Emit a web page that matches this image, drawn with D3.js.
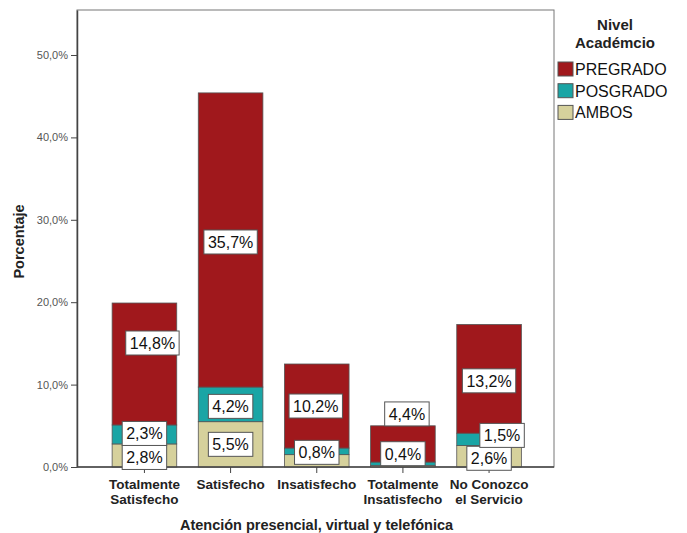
<!DOCTYPE html>
<html>
<head>
<meta charset="utf-8">
<script src="https://cdn.jsdelivr.net/npm/d3@7/dist/d3.min.js"></script>
<style>
  body { margin: 0; background: #fff; }
  svg { display: block; font-family: Arial, "Liberation Sans", sans-serif; }
</style>
</head>
<body>
<svg id="chart" width="687" height="533"></svg>
<script>
// Categories on the x axis (two-line labels)
const categories = ["Totalmente Satisfecho", "Satisfecho", "Insatisfecho", "Totalmente Insatisfecho", "No Conozco el Servicio"];
const categoryLines = [["Totalmente", "Satisfecho"], ["Satisfecho"], ["Insatisfecho"], ["Totalmente", "Insatisfecho"], ["No Conozco", "el Servicio"]];

// Stack order, bottom to top
const seriesNames = ["AMBOS", "POSGRADO", "PREGRADO"];
const ambos     = [2.8, 5.5, 1.5, 0.2, 2.6];
const posgrado  = [2.3, 4.2, 0.8, 0.4, 1.5];
const pregrado  = [14.8, 35.7, 10.2, 4.4, 13.2];
// Which segment values carry a printed label
const showAmbos    = [true, true, false, false, true];
const showPosgrado = [true, true, true, true, true];
const showPregrado = [true, true, true, true, true];

const yTicks = [0, 10, 20, 30, 40, 50];

// Styling
const colors = { PREGRADO: "#a0181c", POSGRADO: "#1aa5a5", AMBOS: "#d6d19c" };
// Label nudges (px) so the boxes do not collide
const labelNudge = {
  AMBOS:    [[0, 2], [0, 0], [0, 0], [0, 0], [0, 2]],
  POSGRADO: [[0, -1], [0, 2], [0, 1], [0, -10], [13, -4]],
  PREGRADO: [[8, -21], [0, 2], [-1, 0], [4, -30], [0, 2]]
};

const svg = d3.select("#chart");
const frame = { left: 77, right: 554, top: 10, bottom: 467 };

const x = d3.scaleBand()
  .domain(categories)
  .range([101.35, 532.15])
  .paddingInner(0.25)
  .paddingOuter(0.125);

const y = d3.scaleLinear().domain([0, 55.46]).range([frame.bottom, frame.top]);

const rows = categories.map((c, i) => ({
  cat: c, AMBOS: ambos[i], POSGRADO: posgrado[i], PREGRADO: pregrado[i], i
}));
const stacked = d3.stack().keys(seriesNames)(rows);
const shows = { AMBOS: showAmbos, POSGRADO: showPosgrado, PREGRADO: showPregrado };

// Frame
svg.append("rect")
  .attr("x", frame.left).attr("y", frame.top)
  .attr("width", frame.right - frame.left).attr("height", frame.bottom - frame.top)
  .attr("fill", "none").attr("stroke", "#777").attr("stroke-width", 1);

// Bars
const layer = svg.append("g");
stacked.forEach(s => {
  layer.selectAll(null).data(s).join("rect")
    .attr("x", d => x(d.data.cat))
    .attr("width", x.bandwidth())
    .attr("y", d => y(d[1]))
    .attr("height", d => y(d[0]) - y(d[1]))
    .attr("fill", colors[s.key])
    .attr("stroke", "#555")
    .attr("stroke-width", 0.8);
});

// Y axis
const yAxis = d3.axisLeft(y).tickValues(yTicks).tickSize(6).tickSizeOuter(0).tickPadding(3)
  .tickFormat(d => d3.format(".1f")(d).replace(".", ",") + "%");
const gy = svg.append("g").attr("transform", `translate(${frame.left},0)`).call(yAxis);
gy.select(".domain").attr("stroke", "#444").attr("stroke-width", 1.5);
gy.selectAll(".tick line").attr("stroke", "#444");
gy.selectAll(".tick text").attr("fill", "#555").style("font-size", "11px");

// X axis
const xAxis = d3.axisBottom(x).tickSize(6).tickSizeOuter(0).tickFormat("");
const gx = svg.append("g").attr("transform", `translate(0,${frame.bottom})`).call(xAxis);
gx.select(".domain").remove();
gx.selectAll(".tick line").attr("stroke", "#444");
svg.append("line")
  .attr("x1", frame.left).attr("x2", frame.right)
  .attr("y1", frame.bottom).attr("y2", frame.bottom)
  .attr("stroke", "#444").attr("stroke-width", 1.5);

// Two-line category labels
categories.forEach((c, i) => {
  const t = svg.append("text")
    .attr("x", x(c) + x.bandwidth() / 2)
    .attr("y", 489)
    .attr("text-anchor", "middle")
    .style("font-size", "13.5px").style("font-weight", "bold").attr("fill", "#222");
  categoryLines[i].forEach((ln, k) => {
    t.append("tspan").attr("x", x(c) + x.bandwidth() / 2).attr("dy", k === 0 ? 0 : 14.5).text(ln);
  });
});

// Value labels in white boxes
const labels = svg.append("g");
stacked.forEach(s => {
  s.forEach((d, i) => {
    if (!shows[s.key][i]) return;
    const [dx, dy] = labelNudge[s.key][i];
    const cx = x(d.data.cat) + x.bandwidth() / 2 + dx;
    const cy = y((d[0] + d[1]) / 2) + dy;
    const val = d[1] - d[0];
    const g = labels.append("g");
    const txt = g.append("text")
      .attr("x", cx).attr("y", cy + 6)
      .attr("text-anchor", "middle")
      .style("font-size", "16px").attr("fill", "#111")
      .text(d3.format(".1f")(val).replace(".", ",") + "%");
    const w = txt.node().getComputedTextLength() + 8;
    g.insert("rect", "text")
      .attr("x", cx - w / 2).attr("y", cy - 12)
      .attr("width", w).attr("height", 24)
      .attr("fill", "#fff").attr("stroke", "#555").attr("stroke-width", 1);
  });
});

// Axis titles
svg.append("text")
  .attr("transform", `translate(24,${(frame.top + frame.bottom) / 2 + 3}) rotate(-90)`)
  .attr("text-anchor", "middle")
  .style("font-size", "14.5px").style("font-weight", "bold").attr("fill", "#222")
  .text("Porcentaje");
svg.append("text")
  .attr("x", 316.5).attr("y", 530)
  .attr("text-anchor", "middle")
  .style("font-size", "14.5px").style("font-weight", "bold").attr("fill", "#222")
  .text("Atención presencial, virtual y telefónica");

// Legend
const legend = svg.append("g");
legend.append("text").attr("x", 615).attr("y", 30).attr("text-anchor", "middle")
  .style("font-size", "15px").style("font-weight", "bold").attr("fill", "#222").text("Nivel");
legend.append("text").attr("x", 615).attr("y", 48).attr("text-anchor", "middle")
  .style("font-size", "15px").style("font-weight", "bold").attr("fill", "#222").text("Académcio");
["PREGRADO", "POSGRADO", "AMBOS"].forEach((k, i) => {
  const yy = 62 + i * 21.7;
  legend.append("rect").attr("x", 558).attr("y", yy).attr("width", 15).attr("height", 14)
    .attr("fill", colors[k]).attr("stroke", "#555").attr("stroke-width", 1);
  legend.append("text").attr("x", 575).attr("y", yy + 13)
    .style("font-size", "16px").attr("fill", "#111").text(k);
});
</script>
</body>
</html>
